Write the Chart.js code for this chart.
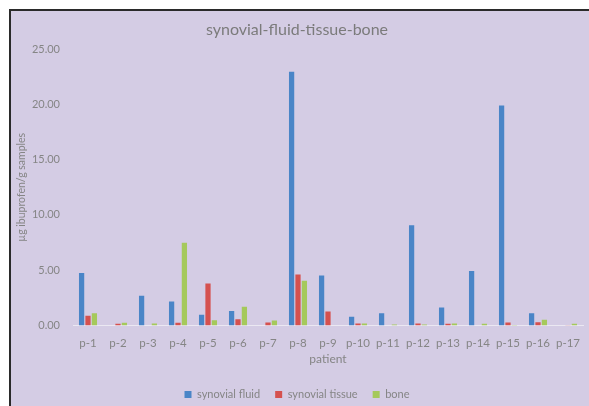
<!DOCTYPE html>
<html lang="en">
<head>
  <meta charset="UTF-8">
  <title>synovial-fluid-tissue-bone</title>
  <script src="https://cdn.jsdelivr.net/npm/chart.js"></script>
  <style>
    body {
      margin: 0;
      padding: 0;
      background: #ffffff;
      width: 589px;
      height: 406px;
      overflow: hidden;
      position: relative;
    }

    /* purple panel, only top and left edges framed like the scan */
    .chart-frame {
      position: absolute;
      left: 9px;
      top: 9px;
      width: 580px;
      height: 410px;
      background: #d4cce4;
      border-top: 2px solid #2a2a2a;
      border-left: 2px solid #2a2a2a;
    }
  </style>
</head>
<body>

<div class="chart-frame">
  <canvas id="tissueChart" width="578" height="399"></canvas>
</div>

<script>
  // patients on the x axis
  var patients = ['p-1', 'p-2', 'p-3', 'p-4', 'p-5', 'p-6', 'p-7', 'p-8', 'p-9',
                  'p-10', 'p-11', 'p-12', 'p-13', 'p-14', 'p-15', 'p-16', 'p-17'];

  // µg ibuprofen / g samples
  var synovialFluid  = [4.74, 0, 2.69, 2.17, 0.97, 1.30, 0, 22.94, 4.53, 0.79, 1.11, 9.06, 1.63, 4.92, 19.90, 1.11, 0];
  var synovialTissue = [0.88, 0.15, 0, 0.24, 3.80, 0.57, 0.27, 4.62, 1.27, 0.18, 0, 0.18, 0.15, 0, 0.27, 0.30, 0.03];
  var bone           = [1.11, 0.24, 0.18, 7.49, 0.48, 1.69, 0.45, 4.05, 0, 0.18, 0.08, 0.10, 0.18, 0.15, 0.05, 0.52, 0.15];

  var yTicks = [0, 5, 10, 15, 20, 25];

  var textGrey = '#858585';
  Chart.defaults.font.family = 'Lato, "Open Sans", sans-serif';
  Chart.defaults.color = textGrey;

  var ctx = document.getElementById('tissueChart').getContext('2d');
  var chart = new Chart(ctx, {
    type: 'bar',
    data: {
      labels: patients,
      datasets: [
        { label: 'synovial fluid',  data: synovialFluid,  backgroundColor: '#4a85c7' },
        { label: 'synovial tissue', data: synovialTissue, backgroundColor: '#d5514f' },
        { label: 'bone',            data: bone,           backgroundColor: '#a5c95b' }
      ]
    },
    options: {
      responsive: false,
      animation: false,
      categoryPercentage: 0.64,
      barPercentage: 0.82,
      layout: { padding: { left: 0, right: 6, top: 0, bottom: 0 } },
      plugins: {
        title: {
          display: true,
          text: 'synovial-fluid-tissue-bone',
          color: '#7b7b7b',
          font: { size: 16, weight: 'normal' },
          padding: { top: 9.5, bottom: 9.3 }
        },
        legend: {
          position: 'bottom',
          labels: {
            boxWidth: 7,
            boxHeight: 7,
            padding: 15,
            font: { size: 11 },
            color: textGrey
          }
        },
        tooltip: { enabled: false }
      },
      scales: {
        x: {
          grid: { display: false },
          border: { color: '#ebe8f2', width: 1 },
          ticks: { font: { size: 11.5 }, color: textGrey, maxRotation: 0, padding: 3 },
          title: { display: true, text: 'patient', font: { size: 12 }, color: textGrey, padding: { top: 2, bottom: 8 } },
          afterFit: function (axis) { axis.height = 48.5; }
        },
        y: {
          min: 0,
          max: 25,
          afterBuildTicks: function (axis) {
            axis.ticks = yTicks.map(function (v) { return { value: v }; });
          },
          grid: { display: false, drawTicks: false },
          border: { display: false },
          ticks: {
            font: { size: 11 },
            color: textGrey,
            padding: 13,
            callback: function (v) { return Number(v).toFixed(2); }
          },
          title: { display: true, text: 'µg ibuprofen/g samples', font: { size: 10.5 }, color: textGrey },
          afterFit: function (axis) { axis.width = 62; }
        }
      }
    }
  });
</script>

</body>
</html>
